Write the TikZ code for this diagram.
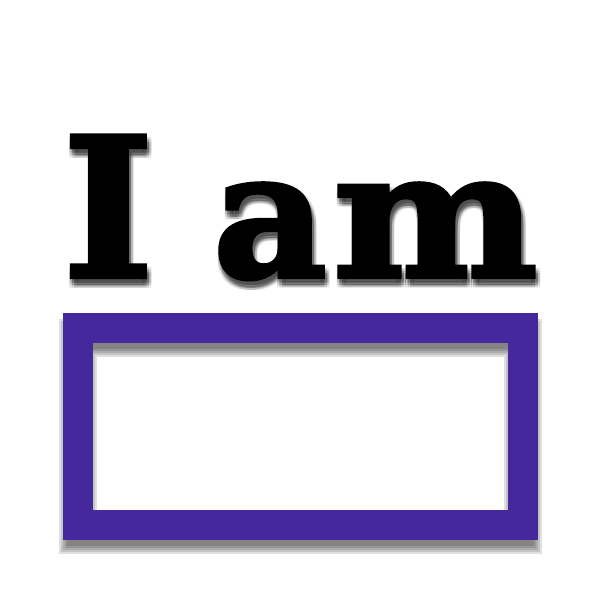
\documentclass[tikz,border=0pt]{standalone}
\usepackage{fontspec}
\newfontfamily\slab[FakeBold=2.2]{DejaVu Serif Bold}
\definecolor{framepurple}{RGB}{68,40,156}
\tikzset{
  glyph/.style={inner sep=0pt, outer sep=0pt, anchor=base west},
  frameline/.style={draw=framepurple, line width=30pt},
  shadowline/.style={draw=black, draw opacity=0.12},
  shadowtext/.style={text=black, text opacity=0.09}
}
\newcommand\iamletters[1]{%
  \node[glyph,#1] (I) at (63,277) {\fontsize{194}{194}\slab I};
  \node[glyph,#1] (a) at (213,277) {\fontsize{176}{176}\slab a};
  \node[glyph,#1] (m) at (333,277) {\scalebox{1.1}[1]{\fontsize{176}{176}\slab m}};
}
\begin{document}
\begin{tikzpicture}[x=1pt,y=-1pt]
\useasboundingbox (0,0) rectangle (600,600);
\fill[white] (0,0) rectangle (600,600);
% text shadow
\foreach \dx in {-2.5,0,2.5}{
  \foreach \dy in {-2.5,0,2.5}{
    \begin{scope}[shift={(2+\dx,6+\dy)}]
      \iamletters{shadowtext}
    \end{scope}
  }
}
% text
\iamletters{}
% frame shadow
\begin{scope}[shift={(0,10)}]
  \foreach \w in {38,34,30,26,22}
    \draw[shadowline, line width=\w pt] (78,328) rectangle (523,525);
\end{scope}
% frame
\draw[frameline] (78,328) rectangle (523,525);
\end{tikzpicture}
\end{document}
